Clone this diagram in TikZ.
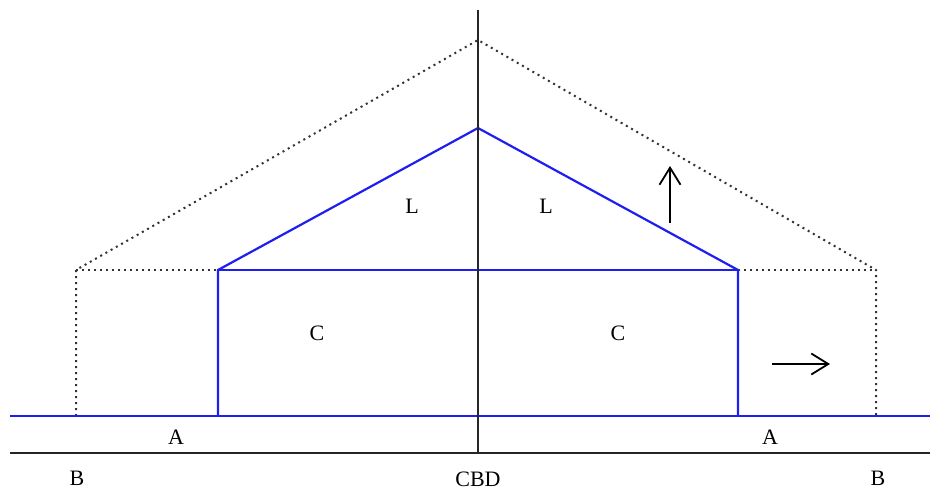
\documentclass[tikz,border=0pt]{standalone}
\usepackage{fontspec}
\setmainfont{Liberation Serif}
\usetikzlibrary{arrows.meta}
\begin{document}
\begin{tikzpicture}[x=1pt,y=-1pt,
  blueline/.style={draw={rgb,255:red,30;green,30;blue,240},line width=2.2pt},
  axisline/.style={draw=black!85,line width=2.1pt},
  dotline/.style={draw=black!80,line width=2pt,dash pattern=on 2pt off 4pt},
  lab/.style={font=\fontsize{22}{26}\selectfont,inner sep=0pt},
  arr/.style={draw=black,line width=1.8pt,-{Straight Barb[length=17pt,width=21pt,line width=1.8pt]}}]
\useasboundingbox (0,0) rectangle (930,491);
% coordinates
\coordinate (ax0) at (478,10);
\coordinate (ax1) at (478,452);
\coordinate (gl) at (10,416);
\coordinate (gr) at (930,416);
\coordinate (bl) at (10,453);
\coordinate (br) at (930,453);
\coordinate (dpk) at (478,40);
\coordinate (dl) at (76,270);
\coordinate (dlb) at (76,416);
\coordinate (dr) at (876,270);
\coordinate (drb) at (876,416);
\coordinate (pk) at (478,128);
\coordinate (cl) at (218,270);
\coordinate (cr) at (738,270);
\coordinate (clb) at (218,416);
\coordinate (crb) at (738,416);
\coordinate (ua0) at (670,223);
\coordinate (ua1) at (670,166);
\coordinate (ra0) at (772,364);
\coordinate (ra1) at (830,364);
% dotted outer
\draw[dotline] (dlb) -- (dl) -- (dpk) -- (dr) -- (drb);
\draw[dotline] (dl) -- (cl);
\draw[dotline] (cr) -- (dr);
% lines
\draw[axisline] (bl) -- (br);
\draw[blueline] (gl) -- (gr);
\draw[blueline] (clb) -- (cl) -- (pk) -- (cr) -- (crb);
\draw[blueline] (cl) -- (cr);
\draw[axisline] (ax0) -- (ax1);
% arrows
\draw[arr] (ua0) -- (ua1);
\draw[arr] (ra0) -- (ra1);
% labels
\node[lab] (l1) at (412,206) {L};
\node[lab] (l2) at (546,206) {L};
\node[lab] (c1) at (317,333) {C};
\node[lab] (c2) at (618,333) {C};
\node[lab] (a1) at (176,437) {A};
\node[lab] (a2) at (770,437) {A};
\node[lab] (b1) at (77,478) {B};
\node[lab] (b2) at (878,478) {B};
\node[lab] (cbd) at (478,479) {CBD};
\end{tikzpicture}
\end{document}
